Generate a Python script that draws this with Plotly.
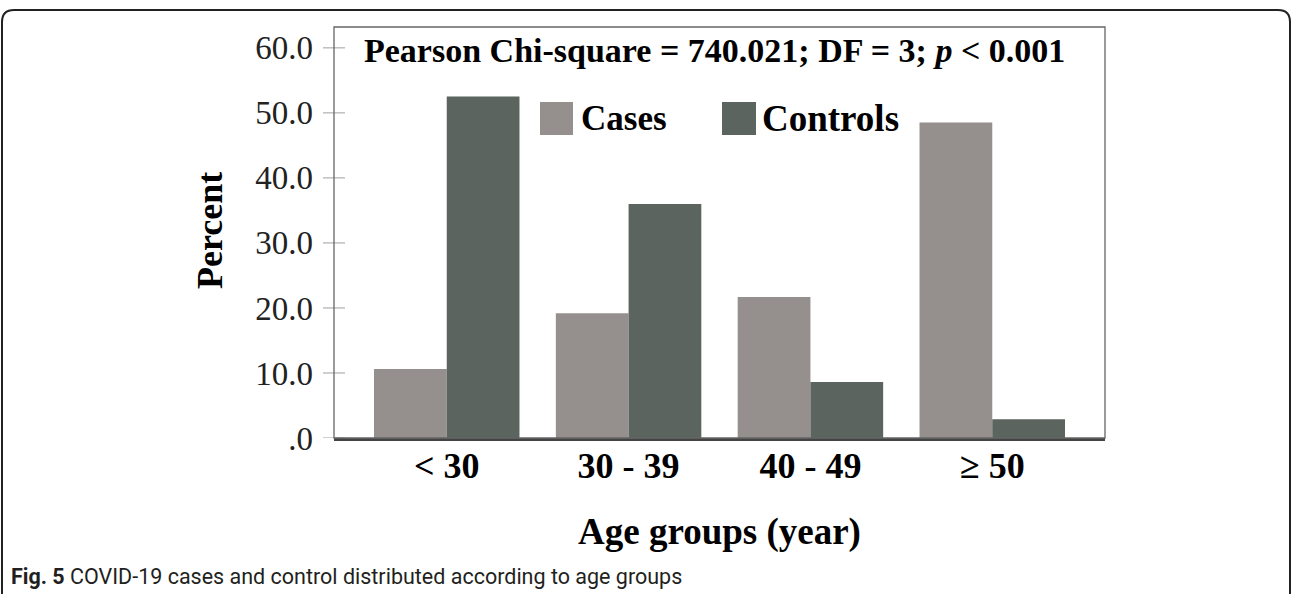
import plotly.graph_objects as go

# ---- data ----
age_groups = ["< 30", "30 - 39", "40 - 49", "≥ 50"]
cases = [10.6, 19.2, 21.7, 48.5]
controls = [52.5, 36.0, 8.6, 2.9]
series_names = ["Cases", "Controls"]
y_tickvals = [0, 10, 20, 30, 40, 50, 60]
y_ticktext = [".0", "10.0", "20.0", "30.0", "40.0", "50.0", "60.0"]

CASE_COLOR = "#95908e"
CTRL_COLOR = "#5b645f"
SERIF = "Liberation Serif, Times New Roman, serif"

fig = go.Figure()
fig.add_trace(go.Bar(x=age_groups, y=cases, name=series_names[0],
                     marker=dict(color=CASE_COLOR, line=dict(width=0))))
fig.add_trace(go.Bar(x=age_groups, y=controls, name=series_names[1],
                     marker=dict(color=CTRL_COLOR, line=dict(width=0))))

W, H = 1292, 594
L, R, T, B = 334, 1105, 27, 438  # plot area in px


def px(x):
    return (x - L) / (R - L)


def py(y):
    return (B - y) / (B - T)


shapes = []
# outer rounded frame
x0, x1, yt, yb = px(2), px(1290), py(10), py(610)
rx, ry = 12 / (R - L), 12 / (B - T)
shapes.append(dict(type="path", xref="paper", yref="paper",
                   path=f"M {x0},{yb} L {x0},{yt-ry} Q {x0},{yt} {x0+rx},{yt} "
                        f"L {x1-rx},{yt} Q {x1},{yt} {x1},{yt-ry} L {x1},{yb}",
                   line=dict(color="#222", width=2)))
# plot frame
shapes.append(dict(type="rect", xref="paper", yref="paper", x0=0, x1=1, y0=0, y1=1,
                   line=dict(color="#666", width=1.3), layer="above"))
# y ticks crossing the axis
for v in y_tickvals:
    shapes.append(dict(type="line", xref="paper", yref="y", x0=px(323), x1=px(345),
                       y0=v, y1=v, line=dict(color="#b5b5b5", width=1.3), layer="below"))
# legend squares
shapes.append(dict(type="rect", xref="paper", yref="paper", x0=px(540), x1=px(573),
                   y0=py(135), y1=py(102), fillcolor=CASE_COLOR, line=dict(width=0)))
shapes.append(dict(type="rect", xref="paper", yref="paper", x0=px(722), x1=px(756),
                   y0=py(135), y1=py(102), fillcolor=CTRL_COLOR, line=dict(width=0)))

annotations = [
    dict(text="Pearson Chi-square = 740.021; DF = 3; <i>p</i> &lt; 0.001",
         x=px(714), y=py(50), xref="paper", yref="paper", showarrow=False,
         xanchor="center", yanchor="middle",
         font=dict(family=SERIF, size=34, color="#000", weight="bold")),
    dict(text=series_names[0], x=px(579), y=py(119), xref="paper", yref="paper",
         showarrow=False, xanchor="left", yanchor="middle",
         font=dict(family=SERIF, size=35, color="#000", weight="bold")),
    dict(text=series_names[1], x=px(760), y=py(119), xref="paper", yref="paper",
         showarrow=False, xanchor="left", yanchor="middle",
         font=dict(family=SERIF, size=37, color="#000", weight="bold")),
    dict(text="Percent", x=px(210), y=py(231), xref="paper", yref="paper",
         showarrow=False, xanchor="center", yanchor="middle", textangle=-90,
         font=dict(family=SERIF, size=36, color="#000", weight="bold")),
    dict(text="Age groups (year)", x=px(719), y=py(532), xref="paper", yref="paper",
         showarrow=False, xanchor="center", yanchor="middle",
         font=dict(family=SERIF, size=37, color="#000", weight="bold")),
    dict(text="<b>Fig. 5</b> COVID-19 cases and control distributed according to age groups",
         x=px(9), y=py(576), xref="paper", yref="paper", showarrow=False,
         xanchor="left", yanchor="middle",
         font=dict(family="Liberation Sans Narrow, Roboto, sans-serif", size=21.5, color="#231f20")),
]

fig.update_layout(
    width=W, height=H,
    margin=dict(l=L, r=W - R, t=T, b=H - B, pad=0),
    paper_bgcolor="white", plot_bgcolor="white",
    showlegend=False,
    barmode="group", bargap=0.2, bargroupgap=0,
    shapes=shapes, annotations=annotations,
    xaxis=dict(range=[-0.62, 3.62], showgrid=False, zeroline=False,
               showline=True, linecolor="#444", linewidth=2.5, ticks="",
               ticklabelstandoff=-6,
               tickfont=dict(family=SERIF, size=36, color="#000", weight="bold")),
    yaxis=dict(range=[0, 63.2], showgrid=False, zeroline=False, showline=False,
               tickvals=y_tickvals, ticktext=y_ticktext, ticks="",
               ticklabelstandoff=20,
               tickfont=dict(family=SERIF, size=33, color="#222")),
)

fig.write_html("out.html",
               config={"displayModeBar": False},
               post_script="document.body.style.margin='0';document.body.style.overflow='hidden';")
